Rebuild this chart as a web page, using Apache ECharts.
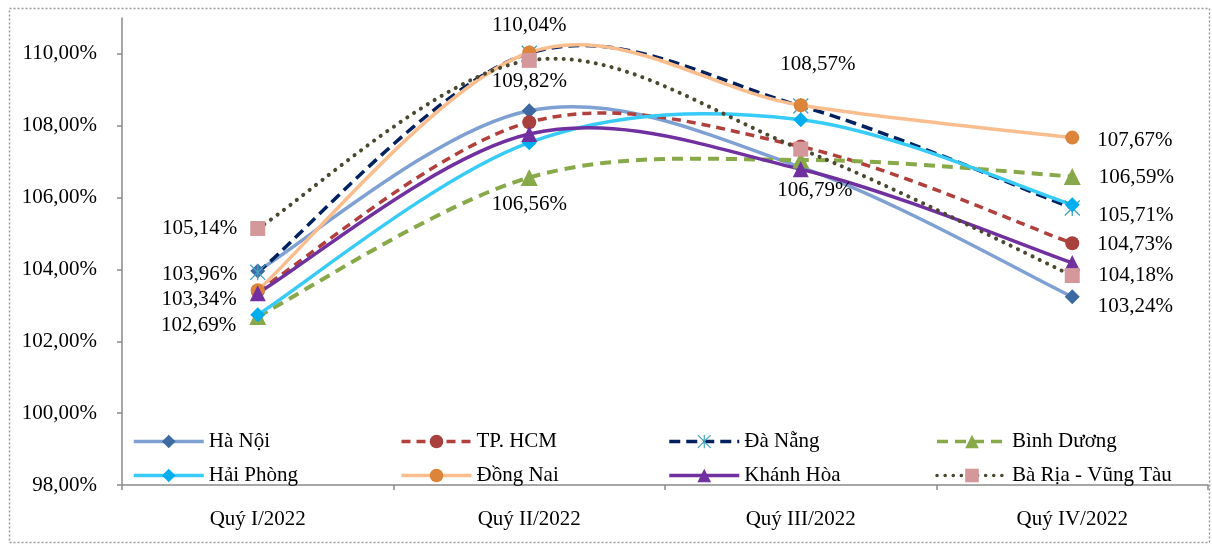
<!DOCTYPE html>
<html>
<head>
<meta charset="utf-8">
<script src="https://cdn.jsdelivr.net/npm/echarts@6/dist/echarts.min.js"></script>
<style>
html,body{margin:0;padding:0;background:#fff;}
#chart{width:1212px;height:546px;}
</style>
</head>
<body>
<div id="chart"></div>
<script>
// ---- DATA ----
const categories = ['Quý I/2022', 'Quý II/2022', 'Quý III/2022', 'Quý IV/2022'];
const seriesNames = ['Hà Nội', 'TP. HCM', 'Đà Nẵng', 'Bình Dương', 'Hải Phòng', 'Đồng Nai', 'Khánh Hòa', 'Bà Rịa - Vũng Tàu'];
const haNoi     = [103.96, 108.42, 106.85, 103.24];
const tpHcm     = [103.40, 108.10, 107.42, 104.73];
const daNang    = [103.92, 110.02, 108.55, 105.71];
const binhDuong = [102.69, 106.56, 107.05, 106.59];
const haiPhong  = [102.74, 107.53, 108.17, 105.80];
const dongNai   = [103.42, 110.04, 108.57, 107.67];
const khanhHoa  = [103.34, 107.77, 106.79, 104.18];
const baRia     = [105.14, 109.82, 107.35, 103.83];
const yTicks = [98, 100, 102, 104, 106, 108, 110];

// which points carry a value label: [series index, category index]
const labelledPoints = [
  [7, 0], [0, 0], [6, 0], [3, 0],
  [5, 1], [7, 1], [3, 1],
  [5, 2], [6, 2],
  [5, 3], [3, 3], [2, 3], [1, 3], [6, 3], [0, 3]
];

// ---- STYLE ----
const FONT = '"Liberation Serif", "Times New Roman", serif';
const FS = 21;
const asterisk = 'path://M11 0 L13 0 L13 24 L11 24 Z M0 1.4 L1.4 0 L24 22.6 L22.6 24 Z M22.6 0 L24 1.4 L1.4 24 L0 22.6 Z';
const styles = [
  {line:'#7FA0D2', mark:'#3E6AA3', type:'solid', symbol:'diamond', size:15, width:3.5},
  {line:'#B1403D', mark:'#A8403D', type:[9,6], symbol:'circle', size:14, width:3.5},
  {line:'#002060', mark:'#3FA3C4', type:[11,6], symbol:asterisk, size:16, width:3.5},
  {line:'#87A94A', mark:'#87A94A', type:[11,7], symbol:'triangle', size:17, width:4},
  {line:'#38CBF7', mark:'#00AEEF', type:'solid', symbol:'diamond', size:15, width:3.5},
  {line:'#FABE8E', mark:'#DD843B', type:'solid', symbol:'circle', size:14, width:3.5},
  {line:'#7030A0', mark:'#7030A0', type:'solid', symbol:'triangle', size:16, width:3.5},
  {line:'#4A4830', mark:'#D4979A', type:[0.1,8], symbol:'rect', size:15, width:4, cap:'round'}
];
// label placement: key "s,c" -> placement
const labelPlace = {
  '7,0': {position:'left', distance:13, offset:[0,0]},
  '0,0': {position:'left', distance:13, offset:[0,4]},
  '6,0': {position:'left', distance:13, offset:[0,6]},
  '3,0': {position:'left', distance:13, offset:[0,9]},
  '5,1': {position:'top', distance:10, offset:[0,0]},
  '7,1': {position:'bottom', distance:3, offset:[0,0]},
  '3,1': {position:'bottom', distance:8, offset:[0,0]},
  '5,2': {position:'top', distance:23, offset:[17,0]},
  '6,2': {position:'bottom', distance:3, offset:[14,0]},
  '5,3': {position:'right', distance:18, offset:[0,3]},
  '3,3': {position:'right', distance:18, offset:[0,1]},
  '2,3': {position:'right', distance:18, offset:[0,7]},
  '1,3': {position:'right', distance:18, offset:[0,1]},
  '6,3': {position:'right', distance:18, offset:[0,12]},
  '0,3': {position:'right', distance:18, offset:[0,10]}
};

const allValues = [haNoi, tpHcm, daNang, binhDuong, haiPhong, dongNai, khanhHoa, baRia];
const fmt = v => v.toFixed(2).replace('.', ',') + '%';

// Excel-like smoothed curve (Catmull-Rom -> cubic Bezier) in pixel space
function splinePath(pts) {
  let d = 'M' + pts[0][0] + ' ' + pts[0][1];
  for (let i = 0; i < pts.length - 1; i++) {
    const p0 = pts[i - 1] || pts[i], p1 = pts[i], p2 = pts[i + 1], p3 = pts[i + 2] || pts[i + 1];
    const c1x = p1[0] + (p2[0] - p0[0]) / 6, c1y = p1[1] + (p2[1] - p0[1]) / 6;
    const c2x = p2[0] - (p3[0] - p1[0]) / 6, c2y = p2[1] - (p3[1] - p1[1]) / 6;
    d += ' C' + c1x + ' ' + c1y + ' ' + c2x + ' ' + c2y + ' ' + p2[0] + ' ' + p2[1];
  }
  return d;
}

const curveSeries = allValues.map((vals, s) => {
  const st = styles[s];
  return {
    type: 'custom',
    name: 'curve' + s,
    silent: true,
    z: 2,
    data: [[0, vals[0]]],
    renderItem: (params, api) => {
      const pts = vals.map((v, c) => api.coord([c, v]));
      return {
        type: 'path',
        shape: {pathData: splinePath(pts)},
        style: {
          fill: 'none',
          stroke: st.line,
          lineWidth: st.width,
          lineDash: st.type === 'solid' ? null : st.type,
          lineCap: st.cap || 'butt'
        }
      };
    }
  };
});

const markerSeries = allValues.map((vals, s) => {
  const st = styles[s];
  return {
    name: seriesNames[s],
    type: 'line',
    symbol: st.symbol,
    symbolSize: st.size,
    lineStyle: {color: st.line, width: st.width, type: st.type, cap: st.cap || 'butt', opacity: 0},
    itemStyle: {color: st.mark},
    z: 3,
    data: vals.map((v, c) => {
      const isL = labelledPoints.some(p => p[0] === s && p[1] === c);
      if (!isL) return v;
      const pl = labelPlace[s + ',' + c];
      return {
        value: v,
        label: {
          show: true,
          position: pl.position,
          distance: pl.distance,
          offset: pl.offset,
          formatter: p => fmt(p.value),
          color: '#000',
          fontFamily: FONT,
          fontSize: FS
        }
      };
    })
  };
});

const chart = echarts.init(document.getElementById('chart'));
chart.setOption({
  animation: false,
  backgroundColor: '#fff',
  grid: {left: 122, right: 4, top: 18, bottom: 61, containLabel: false},
  graphic: [{
    type: 'rect', left: 7, top: 6, silent: true,
    shape: {width: 1200, height: 534},
    style: {fill: 'none', stroke: '#9a9a9a', lineWidth: 1.5, lineDash: [2, 2]}
  }],
  legend: {
    left: 132, top: 431, width: 1080, padding: 0,
    itemWidth: 70, itemHeight: 17, itemGap: 13,
    data: seriesNames,
    lineStyle: {opacity: 1, width: 3.5},
    textStyle: {fontFamily: FONT, fontSize: FS, color: '#000', width: 178, lineHeight: 21}
  },
  xAxis: {
    type: 'category',
    data: categories,
    boundaryGap: true,
    axisLine: {lineStyle: {color: '#8a8a8a', width: 1.5}},
    axisTick: {show: true, length: 5, lineStyle: {color: '#8a8a8a', width: 1.5}},
    axisLabel: {fontFamily: FONT, fontSize: FS, color: '#000', margin: 24}
  },
  yAxis: {
    type: 'value',
    min: 98, max: 111, interval: 2,
    axisLine: {show: true, lineStyle: {color: '#8a8a8a', width: 1.5}},
    axisTick: {show: true, length: 5, lineStyle: {color: '#8a8a8a', width: 1.5}, customValues: yTicks},
    axisLabel: {fontFamily: FONT, fontSize: FS, color: '#000', margin: 25,
      customValues: yTicks,
      formatter: v => v.toFixed(2).replace('.', ',') + '%'},
    splitLine: {show: false}
  },
  series: curveSeries.concat(markerSeries)
});
</script>
</body>
</html>
